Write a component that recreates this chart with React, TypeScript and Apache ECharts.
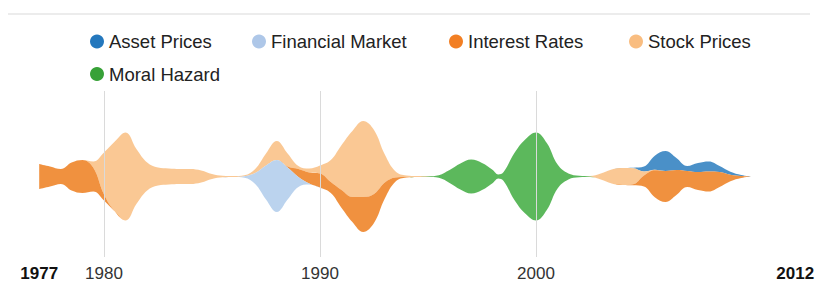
import React, { useEffect, useRef } from 'react';
import * as echarts from 'echarts';

// Stack order (top to bottom) of the stream layers
const layers = ['Asset Prices', 'Stock Prices', 'Interest Rates', 'Financial Market', 'Moral Hazard'];
// Legend order as shown in the chart
const legendNames = ['Asset Prices', 'Financial Market', 'Interest Rates', 'Stock Prices', 'Moral Hazard'];

const legendColors: Record<string, string> = {
  'Asset Prices': '#2478bd',
  'Financial Market': '#aec7e8',
  'Interest Rates': '#f27f24',
  'Stock Prices': '#f9bd80',
  'Moral Hazard': '#37a137',
};

const streamColors: Record<string, string> = {
  'Asset Prices': '#3684c2',
  'Financial Market': '#b4ceec',
  'Interest Rates': '#ee852a',
  'Stock Prices': '#f9c288',
  'Moral Hazard': '#4ab04a',
};

const years = [
  1977, 1977.5, 1978, 1978.5, 1979, 1979.5, 1980, 1980.5, 1981, 1981.5,
  1982, 1982.5, 1983, 1983.5, 1984, 1984.5, 1985, 1985.5, 1986, 1986.5,
  1987, 1987.5, 1988, 1988.5, 1989, 1989.5, 1990, 1990.5, 1991, 1991.5,
  1992, 1992.5, 1993, 1993.5, 1994, 1994.5, 1995, 1995.5, 1996, 1996.5,
  1997, 1997.5, 1998, 1998.25, 1998.5, 1999, 1999.5, 2000, 2000.5, 2001, 2001.5,
  2002, 2002.5, 2003, 2003.5, 2004, 2004.5, 2005, 2005.5, 2006, 2006.5,
  2007, 2007.5, 2008, 2008.5, 2009, 2009.5, 2010,
];

const assetPrices = [
  0, 0, 0, 0, 0, 0, 0, 0, 0, 0,
  0, 0, 0, 0, 0, 0, 0, 0, 0, 0,
  0, 0, 0, 0, 0, 0, 0, 0, 0, 0,
  0, 0, 0, 0, 0, 0, 0, 0, 0, 0,
  0, 0, 0, 0, 0, 0, 0, 0, 0, 0, 0,
  0, 0, 0, 0, 0, 0.5, 5, 14, 20, 12,
  5, 9, 10, 6, 3, 1, 0,
];

const stockPrices = [
  0, 0, 0, 0, 0, 6, 42, 70, 88, 55,
  28, 18, 16, 15, 15, 12, 5, 1.5, 1, 1,
  4, 12, 19, 13, 3, 4, 8, 22, 45, 66,
  76, 64, 28, 6, 1.5, 0.8, 0.3, 0, 0, 0,
  0, 0, 0, 0, 0, 0, 0, 0, 0, 0, 0,
  0, 0.5, 6, 14, 17, 16, 4, 0.5, 0, 0,
  0, 0, 0, 0, 0, 0, 0,
];

const interestRates = [
  25, 20, 15, 28, 33, 24, 6, 0, 0, 0,
  0, 0, 0, 0, 0, 0, 0, 0, 0, 0,
  0, 0, 0, 1, 8, 11, 14, 11, 18, 25,
  35, 29, 16, 4, 0.5, 0, 0, 0, 0, 0,
  0, 0, 0, 0, 0, 0, 0, 0, 0, 0, 0,
  0, 0, 0, 0, 0, 1, 11, 27, 31, 25,
  16, 18, 20, 15, 6.5, 2, 0,
];

const financialMarket = [
  0, 0, 0, 0, 0, 0, 0, 0, 0, 0,
  0, 0, 0, 0, 0, 0, 0, 0, 0, 1.5,
  11, 34, 52, 32, 10, 1, 0, 0, 0, 0,
  0, 0, 0, 0, 0, 0, 0, 0, 0, 0,
  0, 0, 0, 0, 0, 0, 0, 0, 0, 0, 0,
  0, 0, 0, 0, 0, 0, 0, 0, 0, 0,
  0, 0, 0, 0, 0, 0, 0,
];

const moralHazard = [
  0, 0, 0, 0, 0, 0, 0, 0, 0, 0,
  0, 0, 0, 0, 0, 0, 0, 0, 0, 0,
  0, 0, 0, 0, 0, 0, 0, 0, 0, 0,
  0, 0, 0, 0, 0, 0, 0.5, 2.5, 13, 26,
  34, 27, 13, 4, 9, 47, 74, 88, 67, 24, 6,
  1.5, 0.5, 0, 0, 0, 0, 0, 0, 0, 0,
  0, 0, 0, 0, 0, 0, 0,
];

const layerValues: Record<string, number[]> = {
  'Asset Prices': assetPrices,
  'Stock Prices': stockPrices,
  'Interest Rates': interestRates,
  'Financial Market': financialMarket,
  'Moral Hazard': moralHazard,
};

const gridYears = [1980, 1990, 2000];
const labelYears = [1977, 1980, 1990, 2000, 2012];
const boldYears = [1977, 2012];

const FONT = '"Liberation Sans", Arial, Helvetica, sans-serif';

export default function App() {
  const ref = useRef<HTMLDivElement>(null);

  useEffect(() => {
    if (!ref.current) return;
    const chart = echarts.init(ref.current, undefined, { renderer: 'svg' });

    const riverData: any[] = [];
    layers.forEach((name) => {
      layerValues[name].forEach((v, i) => riverData.push([years[i], v, name]));
    });

    const legendLeft = [90, 252, 449, 629, 90];
    const legendTop = [32, 32, 32, 32, 64.5];

    const option: any = {
      animation: false,
      textStyle: { fontFamily: FONT },
      graphic: [
        {
          type: 'rect',
          silent: true,
          shape: { x: 8, y: 13, width: 802, height: 2 },
          style: { fill: '#ececec' },
        },
      ],
      legend: legendNames.map((name, i) => ({
        data: [{ name, itemStyle: { color: legendColors[name], opacity: 1 } }],
        left: legendLeft[i],
        top: legendTop[i],
        padding: 0,
        icon: 'circle',
        itemWidth: 14,
        itemHeight: 14,
        textStyle: { fontSize: 18.5, color: '#222', fontFamily: FONT },
      })),
      grid: { left: 39.2, right: 22.8, top: 91, bottom: 28 },
      xAxis: {
        type: 'value',
        min: 1977,
        max: 2012,
        axisLine: { show: false },
        axisTick: { show: false },
        splitLine: { show: false },
        axisLabel: {
          customValues: labelYears,
          margin: 8,
          fontSize: 17,
          color: '#333',
          fontFamily: FONT,
          formatter: (v: number) => (boldYears.includes(v) ? `{b|${v}}` : `${v}`),
          rich: { b: { fontWeight: 'bold', fontSize: 17, color: '#111', fontFamily: FONT } },
        },
      },
      yAxis: { type: 'value', min: 0, max: 1, show: false },
      singleAxis: {
        type: 'value',
        min: 1977,
        max: 2012,
        left: 39.2,
        right: 22.8,
        top: 121,
        height: 111,
        axisLine: { show: false },
        axisTick: { show: false },
        axisLabel: { show: false },
        splitLine: { show: false },
      },
      series: [
        {
          type: 'line',
          z: 0,
          silent: true,
          data: [],
          markLine: {
            silent: true,
            symbol: ['none', 'none'],
            label: { show: false },
            lineStyle: { color: '#dadada', width: 1, type: 'solid' },
            data: gridYears.map((y) => ({ xAxis: y })),
          },
        },
        {
          type: 'themeRiver',
          z: 3,
          boundaryGap: [0, 0],
          color: layers.map((n) => streamColors[n]),
          itemStyle: { opacity: 0.9 },
          label: { show: false },
          emphasis: { disabled: true },
          data: riverData,
        },
      ],
    };

    chart.setOption(option);
    return () => chart.dispose();
  }, []);

  return (
    <div
      ref={ref}
      style={{ position: 'fixed', left: 0, top: 0, width: 818, height: 285, background: '#fff' }}
    />
  );
}
